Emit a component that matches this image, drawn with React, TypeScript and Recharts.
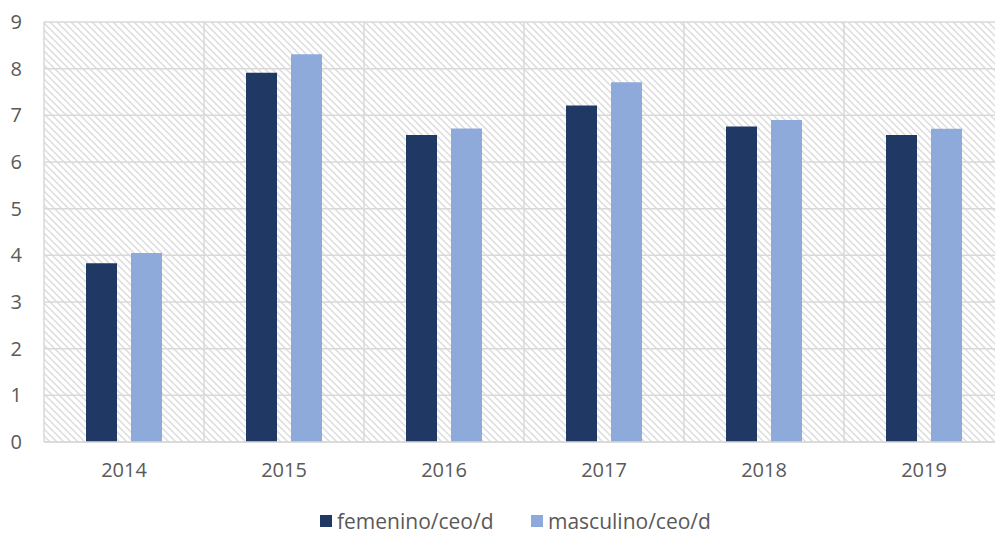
import { BarChart, Bar, XAxis, YAxis, CartesianGrid, Legend } from 'recharts'

const years = ['2014', '2015', '2016', '2017', '2018', '2019']
const femenino = [3.83, 7.91, 6.58, 7.21, 6.76, 6.58]
const masculino = [4.05, 8.31, 6.72, 7.71, 6.9, 6.71]
const yTicks = [0, 1, 2, 3, 4, 5, 6, 7, 8, 9]

const SERIES = [
  { key: 'femenino', name: 'femenino/ceo/d', color: '#1f3864' },
  { key: 'masculino', name: 'masculino/ceo/d', color: '#8eaadb' },
]

const data = years.map((year, i) => ({ year, femenino: femenino[i], masculino: masculino[i] }))

const FONT = '"Open Sans", "Noto Sans", sans-serif'
const TEXT = '#595959'
const GRID = '#d9d9d9'

// legend item starting x positions (square left edge)
const LEGEND_X = [320, 531]

function LegendContent() {
  return (
    <svg width={995} height={52} style={{ display: 'block' }}>
      {SERIES.map((s, i) => (
        <g key={s.key}>
          <rect x={LEGEND_X[i]} y={33} width={12} height={12} fill={s.color} />
          <text x={LEGEND_X[i] + 17} y={38.5} dominantBaseline="central" fontFamily={FONT} fontSize={21} fill={TEXT}>
            {s.name}
          </text>
        </g>
      ))}
    </svg>
  )
}

export default function App() {
  return (
    <div style={{ position: 'absolute', left: 0, top: 0, width: 995, height: 534, overflow: 'hidden', background: '#fff' }}>
      <svg width={0} height={0} style={{ position: 'absolute' }}>
        <defs>
          <pattern id="hatch" patternUnits="userSpaceOnUse" width={7} height={7}>
            <path d="M0,0 L7,7 M-1,6 L1,8 M6,-1 L8,1" stroke="#dcdcdc" strokeWidth={1.5} />
          </pattern>
        </defs>
      </svg>
      <BarChart
        width={1012}
        height={534}
        data={data}
        margin={{ top: 22, right: 8, bottom: 0, left: 0 }}
        barCategoryGap={42}
        barGap={14}
      >
        <CartesianGrid
          stroke={GRID}
          strokeWidth={1.5}
          fill="url(#hatch)"
          fillOpacity={1}
          verticalCoordinatesGenerator={({ offset }: any) =>
            years.map((_, i) => offset.left + (i * offset.width) / years.length).concat(offset.left + offset.width)
          }
        />
        <XAxis
          dataKey="year"
          height={40}
          tickSize={0}
          tickMargin={21}
          axisLine={{ stroke: GRID, strokeWidth: 1.5 }}
          tick={{ fill: TEXT, fontSize: 20, fontFamily: FONT }}
        />
        <YAxis
          width={44}
          domain={[0, 9]}
          ticks={yTicks}
          interval={0}
          tickSize={0}
          tickMargin={22}
          axisLine={false}
          tick={{ fill: TEXT, fontSize: 20, fontFamily: FONT }}
        />
        <Legend verticalAlign="bottom" height={52} wrapperStyle={{ left: 0 }} content={<LegendContent />} />
        {SERIES.map((s) => (
          <Bar key={s.key} dataKey={s.key} name={s.name} fill={s.color} barSize={31} isAnimationActive={false} />
        ))}
      </BarChart>
    </div>
  )
}
